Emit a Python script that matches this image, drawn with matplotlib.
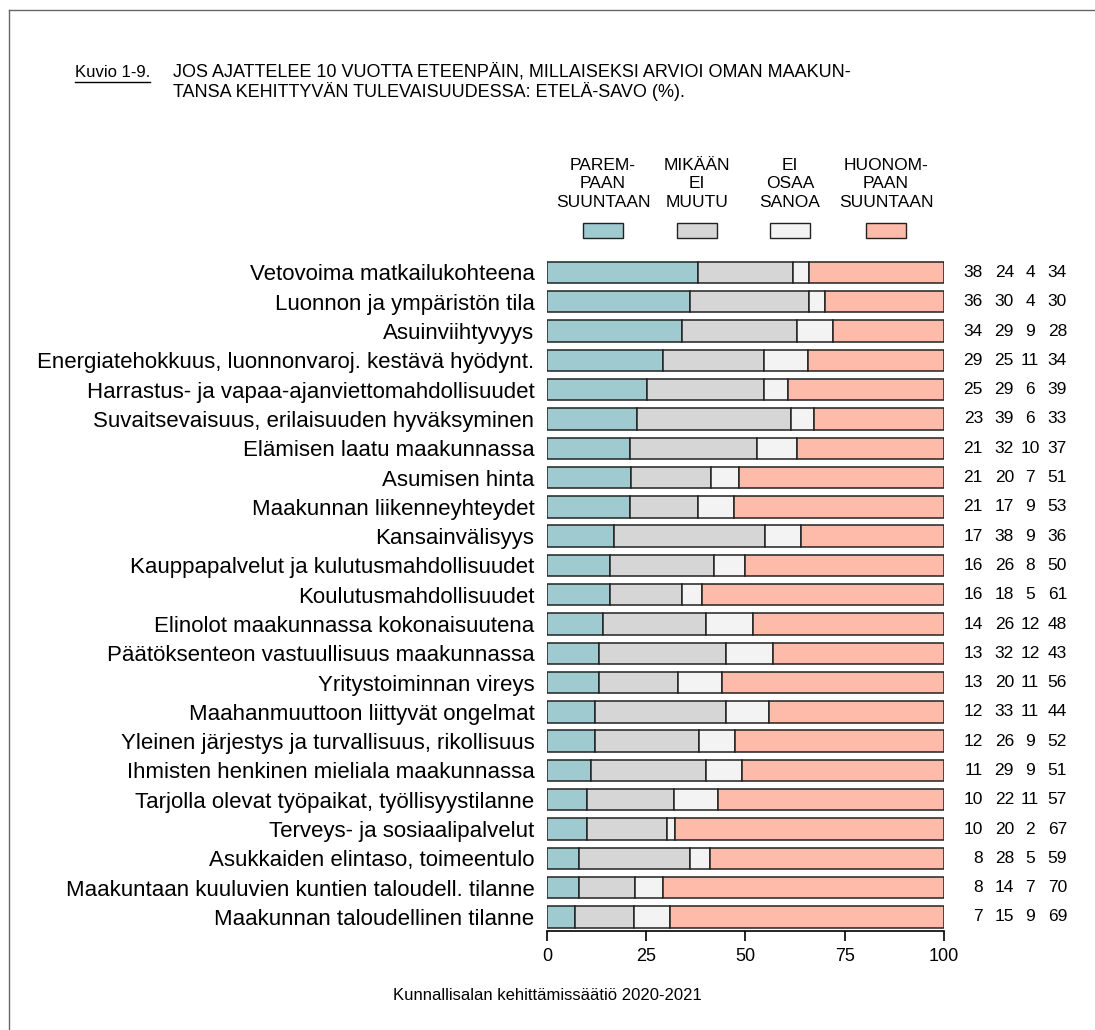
import matplotlib
matplotlib.use('Agg')
import matplotlib.pyplot as plt
from matplotlib.patches import Rectangle
from matplotlib.lines import Line2D
import numpy as np

categories = [
    'Vetovoima matkailukohteena',
    'Luonnon ja ympäristön tila',
    'Asuinviihtyvyys',
    'Energiatehokkuus, luonnonvaroj. kestävä hyödynt.',
    'Harrastus- ja vapaa-ajanviettomahdollisuudet',
    'Suvaitsevaisuus, erilaisuuden hyväksyminen',
    'Elämisen laatu maakunnassa',
    'Asumisen hinta',
    'Maakunnan liikenneyhteydet',
    'Kansainvälisyys',
    'Kauppapalvelut ja kulutusmahdollisuudet',
    'Koulutusmahdollisuudet',
    'Elinolot maakunnassa kokonaisuutena',
    'Päätöksenteon vastuullisuus maakunnassa',
    'Yritystoiminnan vireys',
    'Maahanmuuttoon liittyvät ongelmat',
    'Yleinen järjestys ja turvallisuus, rikollisuus',
    'Ihmisten henkinen mieliala maakunnassa',
    'Tarjolla olevat työpaikat, työllisyystilanne',
    'Terveys- ja sosiaalipalvelut',
    'Asukkaiden elintaso, toimeentulo',
    'Maakuntaan kuuluvien kuntien taloudell. tilanne',
    'Maakunnan taloudellinen tilanne',
]

parempaan = [38, 36, 34, 29, 25, 23, 21, 21, 21, 17, 16, 16, 14, 13, 13, 12, 12, 11, 10, 10, 8, 8, 7]
ei_muutu = [24, 30, 29, 25, 29, 39, 32, 20, 17, 38, 26, 18, 26, 32, 20, 33, 26, 29, 22, 20, 28, 14, 15]
eos = [4, 4, 9, 11, 6, 6, 10, 7, 9, 9, 8, 5, 12, 12, 11, 11, 9, 9, 11, 2, 5, 7, 9]
huonompaan = [34, 30, 28, 34, 39, 33, 37, 51, 53, 36, 50, 61, 48, 43, 56, 44, 52, 51, 57, 67, 59, 70, 69]

series_labels = ['PAREM-\nPAAN\nSUUNTAAN', 'MIKÄÄN\nEI\nMUUTU', 'EI\nOSAA\nSANOA', 'HUONOM-\nPAAN\nSUUNTAAN']
colors = ['#9ECAD0', '#D6D6D6', '#F3F3F3', '#FEBBAA']
xticks = [0, 25, 50, 75, 100]

plt.rcParams['font.family'] = ['Liberation Sans', 'DejaVu Sans']

fig = plt.figure(figsize=(10.95, 10.30), dpi=100)
ax = fig.add_axes([0.4995, 0.0961, 0.3626, 0.6536])

series = np.array([parempaan, ei_muutu, eos, huonompaan], dtype=float)
# rounded values don't always sum to 100, bars still fill 0-100
scaled = series / series.sum(axis=0) * 100
y = np.arange(len(categories))
left = np.zeros(len(categories))
for vals, col in zip(scaled, colors):
    ax.barh(y, vals, left=left, height=0.73, color=col, edgecolor='#222222', linewidth=1.1)
    left += vals

ax.set_xlim(0, 100)
ax.set_ylim(22.48, -0.5)
ax.set_yticks(y)
ax.set_yticklabels(categories, fontsize=16)
ax.tick_params(axis='y', length=0, pad=9)
ax.set_xticks(xticks)
ax.set_xticklabels([str(t) for t in xticks], fontsize=13)
ax.tick_params(axis='x', length=7, width=1.2, pad=5)
for s in ['top', 'right', 'left']:
    ax.spines[s].set_visible(False)
ax.spines['bottom'].set_linewidth(1.2)
ax.spines['bottom'].set_bounds(0, 100)

# value columns on the right
col_x = [109.8, 117.6, 121.7, 131.0]
col_ha = ['right', 'right', 'center', 'right']
for i in range(len(categories)):
    for j in range(4):
        ax.text(col_x[j], i, str(int(series[j, i])), ha=col_ha[j], va='center',
                fontsize=12.5, clip_on=False)

# legend
W, H = 1095.0, 1030.0
leg_x = [603, 697, 790, 886]
for lab, col, lx in zip(series_labels, colors, leg_x):
    fig.text(lx / W, 1 - 184 / H, lab, ha='center', va='center', fontsize=12.5,
             linespacing=1.3)
    fig.patches.append(Rectangle(((lx - 20) / W, 1 - 238 / H), 40 / W, 15 / H,
                                 transform=fig.transFigure, facecolor=col,
                                 edgecolor='#222222', linewidth=1.0))

# title
kuvio = fig.text(75 / W, 1 - 72 / H, 'Kuvio 1-9.', fontsize=12, va='center')
fig.text(173 / W, 1 - 82 / H,
         'JOS AJATTELEE 10 VUOTTA ETEENPÄIN, MILLAISEKSI ARVIOI OMAN MAAKUN-\n'
         'TANSA KEHITTYVÄN TULEVAISUUDESSA: ETELÄ-SAVO (%).',
         fontsize=13, va='center', linespacing=1.1)
fig.canvas.draw()
bb = kuvio.get_window_extent()
fig.add_artist(Line2D([bb.x0 / W, bb.x1 / W], [1 - 82 / H, 1 - 82 / H], color='black', linewidth=1.0))

fig.text(0.5, 1 - 996 / H, 'Kunnallisalan kehittämissäätiö 2020-2021', ha='center', va='center', fontsize=12)

# frame lines (left and top only)
fig.add_artist(Line2D([9 / W, 9 / W], [0, 1 - 10 / H], color='#666666', linewidth=1.0))
fig.add_artist(Line2D([9 / W, 1], [1 - 10 / H, 1 - 10 / H], color='#666666', linewidth=1.0))

fig.savefig('out.png', dpi=100)
